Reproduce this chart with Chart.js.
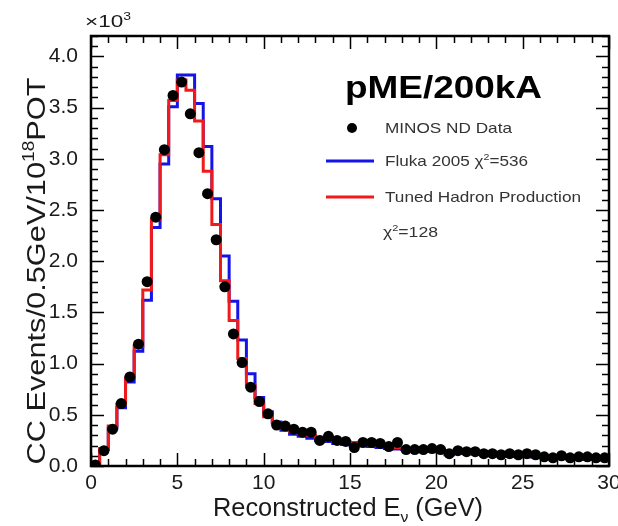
<!DOCTYPE html>
<html lang="en">
<head>
<meta charset="UTF-8">
<title>pME/200kA</title>
<script src="https://cdn.jsdelivr.net/npm/chart.js"></script>
<style>
  html, body { margin: 0; padding: 0; background: #fff; }
  #wrap { width: 618px; height: 526px; }
</style>
</head>
<body>
<div id="wrap"><canvas id="chart" width="618" height="526"></canvas></div>
<script>
// 0.5 GeV bins from 0 to 30 GeV, values in units of 10^3 events
const binWidth = 0.5;
const dataValues = [
  0.01, 0.15, 0.36, 0.61, 0.87, 1.19, 1.80, 2.43, 3.09, 3.62,
  3.75, 3.44, 3.06, 2.66, 2.21, 1.75, 1.29, 1.01, 0.77, 0.63,
  0.51, 0.40, 0.39, 0.36, 0.33, 0.33, 0.25, 0.29, 0.25, 0.24,
  0.18, 0.23, 0.23, 0.22, 0.19, 0.23, 0.16, 0.16, 0.16, 0.17,
  0.16, 0.12, 0.15, 0.14, 0.14, 0.12, 0.12, 0.11, 0.12, 0.11,
  0.12, 0.11, 0.09, 0.08, 0.10, 0.08, 0.09, 0.09, 0.08, 0.08
];
const flukaValues = [
  0.01, 0.16, 0.37, 0.57, 0.82, 1.12, 1.62, 2.33, 2.95, 3.51,
  3.82, 3.82, 3.54, 3.12, 2.61, 2.05, 1.61, 1.23, 0.90, 0.67,
  0.53, 0.43, 0.35, 0.31, 0.29, 0.27, 0.25, 0.24, 0.22, 0.21,
  0.20, 0.195, 0.19, 0.18, 0.17, 0.165, 0.16, 0.155, 0.15, 0.145,
  0.14, 0.11, 0.13, 0.125, 0.12, 0.115, 0.11, 0.105, 0.10, 0.095,
  0.09, 0.088, 0.085, 0.08, 0.077, 0.073, 0.07, 0.067, 0.063, 0.06
];
const tunedValues = [
  0.01, 0.17, 0.39, 0.60, 0.86, 1.17, 1.72, 2.41, 3.04, 3.57,
  3.77, 3.67, 3.37, 2.88, 2.36, 1.81, 1.42, 1.05, 0.79, 0.61,
  0.48, 0.42, 0.37, 0.34, 0.32, 0.30, 0.28, 0.27, 0.25, 0.24,
  0.23, 0.22, 0.21, 0.20, 0.19, 0.18, 0.17, 0.165, 0.16, 0.15,
  0.145, 0.14, 0.135, 0.13, 0.125, 0.12, 0.115, 0.11, 0.105, 0.10,
  0.095, 0.09, 0.087, 0.083, 0.08, 0.075, 0.07, 0.067, 0.063, 0.06
];
const xTicks = [0, 5, 10, 15, 20, 25, 30];
const yTicks = [0.0, 0.5, 1.0, 1.5, 2.0, 2.5, 3.0, 3.5, 4.0];

const FONT = '"Liberation Sans", Arial, Helvetica, sans-serif';
const BLUE = '#1414e6';
const RED = '#f01a1a';

// histogram outline: start at 0, then one point per bin's high edge
// (stepped 'before' keeps the previous value until the next edge)
function stepPoints(values) {
  const pts = [{ x: 0, y: 0 }];
  values.forEach((v, i) => {
    pts.push({ x: i * binWidth, y: v });
  });
  pts.push({ x: values.length * binWidth, y: values[values.length - 1] });
  return pts;
}
const dataPoints = dataValues.map((v, i) => ({ x: (i + 0.5) * binWidth, y: v }));

// text with optional super/subscript parts, stretched to a given width
function drawRich(ctx, parts, x, y, size, opts) {
  const bold = opts.bold ? 'bold ' : '';
  let total = 0;
  const m = parts.map(([t, k]) => {
    const s = k ? size * 0.62 : size;
    ctx.font = bold + s + 'px ' + FONT;
    const w = ctx.measureText(t).width;
    total += w;
    return { t, k, s, w };
  });
  const sx = opts.width ? opts.width / total : 1;
  ctx.save();
  ctx.translate(x, y);
  if (opts.rotate) ctx.rotate(opts.rotate);
  ctx.scale(sx, 1);
  let cx = opts.align === 'center' ? -total / 2 : 0;
  ctx.textBaseline = 'alphabetic';
  ctx.textAlign = 'left';
  ctx.fillStyle = opts.color || '#1a1a1a';
  m.forEach(p => {
    ctx.font = bold + p.s + 'px ' + FONT;
    const dy = p.k === 'sup' ? -size * 0.42 : p.k === 'sub' ? size * 0.22 : 0;
    ctx.fillText(p.t, cx, dy);
    cx += p.w;
  });
  ctx.restore();
}

const framePlugin = {
  id: 'frame',
  afterDraw(chart) {
    const { ctx, chartArea: a, scales: { x, y } } = chart;
    ctx.save();
    ctx.strokeStyle = '#000';
    ctx.lineWidth = 1.5;
    ctx.beginPath();
    // y ticks, left and right, pointing inward
    for (let i = 0; i <= 42; i++) {
      const py = Math.round(y.getPixelForValue(i / 10)) + 0.5;
      const len = i % 5 === 0 ? 13 : 7;
      ctx.moveTo(a.left, py); ctx.lineTo(a.left + len, py);
      ctx.moveTo(a.right, py); ctx.lineTo(a.right - len, py);
    }
    // x ticks, bottom and top
    for (let i = 0; i <= 30; i++) {
      const px = Math.round(x.getPixelForValue(i)) + 0.5;
      const len = i % 5 === 0 ? 13 : 7;
      ctx.moveTo(px, a.bottom); ctx.lineTo(px, a.bottom - len);
      ctx.moveTo(px, a.top); ctx.lineTo(px, a.top + len);
    }
    ctx.stroke();
    ctx.lineWidth = 2.5;
    ctx.strokeRect(a.left, a.top, a.right - a.left, a.bottom - a.top);

    // axis titles and multiplier
    drawRich(ctx, [['CC Events/0.5GeV/10'], ['18', 'sup'], ['POT']], 45, 271,
      26, { rotate: -Math.PI / 2, align: 'center', width: 387 });
    drawRich(ctx, [['Reconstructed E'], ['\u03bd', 'sub'], [' (GeV)']], 348, 516,
      25, { align: 'center', width: 270 });
    drawRich(ctx, [['\u00d710'], ['3', 'sup']], 85, 27, 17, { width: 46 });

    // header and legend
    drawRich(ctx, [['pME/200kA']], 345, 98, 32, { bold: true, width: 197, color: '#000' });
    ctx.fillStyle = '#000';
    ctx.beginPath();
    ctx.arc(352, 128, 5, 0, Math.PI * 2);
    ctx.fill();
    ctx.lineWidth = 3;
    ctx.strokeStyle = BLUE;
    ctx.beginPath(); ctx.moveTo(326, 161); ctx.lineTo(374, 161); ctx.stroke();
    ctx.strokeStyle = RED;
    ctx.beginPath(); ctx.moveTo(326, 197); ctx.lineTo(374, 197); ctx.stroke();
    const lc = '#333';
    drawRich(ctx, [['MINOS ND Data']], 385, 133, 15, { width: 127, color: lc });
    drawRich(ctx, [['Fluka 2005 \u03c7'], ['2', 'sup'], ['=536']], 385, 166, 15, { width: 143, color: lc });
    drawRich(ctx, [['Tuned Hadron Production']], 385, 202, 15, { width: 196, color: lc });
    drawRich(ctx, [['\u03c7'], ['2', 'sup'], ['=128']], 383, 237, 15, { width: 55, color: lc });
    ctx.restore();
  }
};

new Chart(document.getElementById('chart'), {
  type: 'line',
  data: {
    datasets: [
      {
        label: 'MINOS ND Data',
        data: dataPoints,
        showLine: false,
        pointRadius: 5.5,
        pointBackgroundColor: '#000',
        pointBorderWidth: 0,
        order: 0
      },
      {
        label: 'Tuned Hadron Production',
        data: stepPoints(tunedValues),
        stepped: 'before',
        borderColor: RED,
        borderWidth: 3,
        pointRadius: 0,
        fill: false,
        order: 1
      },
      {
        label: 'Fluka 2005',
        data: stepPoints(flukaValues),
        stepped: 'before',
        borderColor: BLUE,
        borderWidth: 3,
        pointRadius: 0,
        fill: false,
        order: 2
      }
    ]
  },
  options: {
    responsive: false,
    animation: false,
    layout: { padding: { top: 36, right: 9, left: 0, bottom: 0 } },
    plugins: { legend: { display: false }, tooltip: { enabled: false } },
    scales: {
      x: {
        type: 'linear',
        min: 0,
        max: 30,
        grid: { display: false, drawTicks: false },
        border: { display: false },
        afterBuildTicks: s => { s.ticks = xTicks.map(v => ({ value: v })); },
        afterFit: s => { s.height = 60; s.paddingLeft = 0; s.paddingRight = 0; },
        ticks: {
          padding: 5,
          maxRotation: 0,
          color: '#1a1a1a',
          font: { family: FONT, size: 21 },
          callback: v => String(v)
        }
      },
      y: {
        type: 'linear',
        min: 0,
        max: 4.2,
        grid: { display: false, drawTicks: false },
        border: { display: false },
        afterBuildTicks: s => { s.ticks = yTicks.map(v => ({ value: v })); },
        afterFit: s => { s.width = 91; s.paddingTop = 0; s.paddingBottom = 0; },
        ticks: {
          padding: 13,
          color: '#1a1a1a',
          font: { family: FONT, size: 21 },
          callback: v => Number(v).toFixed(1)
        }
      }
    }
  },
  plugins: [framePlugin]
});
</script>
</body>
</html>
